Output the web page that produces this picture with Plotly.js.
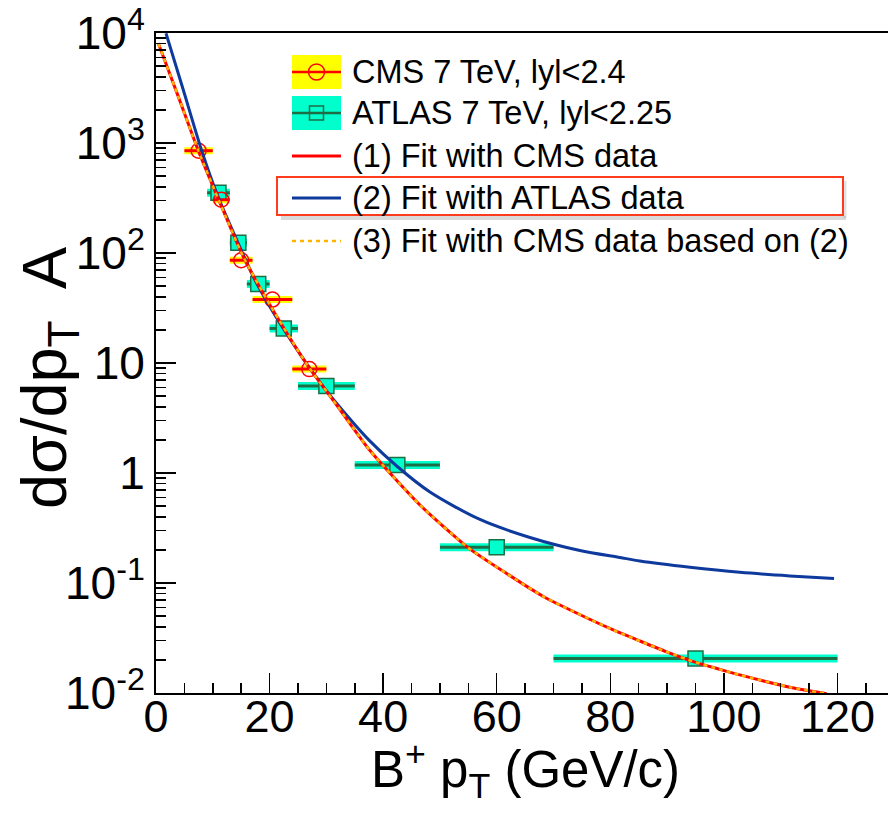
<!DOCTYPE html>
<html>
<head>
<meta charset="utf-8">
<script src="https://cdn.plot.ly/plotly-3.0.1.min.js"></script>
<style>html,body{margin:0;padding:0;background:#fff;}#chart{width:888px;height:819px;}</style>
</head>
<body>
<div id="chart"></div>
<script>
// ---- Data ----
const cmsPt  = [7.5, 11.5, 15, 20.5, 27];
const cmsLo  = [5, 10, 13, 17, 24];
const cmsHi  = [10, 13, 17, 24, 30];
const cmsVal = [851, 305, 86, 37.7, 8.8];

const atlasPt  = [11, 14.5, 18, 22.5, 30, 42.5, 60, 95];
const atlasLo  = [9, 13, 16, 20, 25, 35, 50, 70];
const atlasHi  = [13, 16, 20, 25, 35, 50, 70, 120];
const atlasVal = [353, 124, 52.3, 20.6, 6.18, 1.18, 0.211, 0.0206];

// (1) Fit with CMS data
const fit1X = [0.4, 3.93, 7.45, 11.27, 15.37, 20.07, 26.53, 31.81, 37.68, 46.48, 54.88, 61.74, 68.19, 71.13, 80.51, 85.21, 89.91, 94.89, 99.3, 102.8, 111.6, 118.1];
const fit1Y = [8060, 2640, 851, 285, 92.5, 33.7, 9.79, 4.15, 1.60, 0.512, 0.211, 0.122, 0.0754, 0.0631, 0.0374, 0.0297, 0.0237, 0.0191, 0.0164, 0.0146, 0.0113, 0.00986];
// (2) Fit with ATLAS data
const fit2X = [1.76, 4.81, 8.05, 10.69, 14.49, 17.73, 22.41, 29.45, 34.15, 37.68, 42.38, 48.24, 57.04, 65.85, 74.65, 81.69, 85.21, 94.01, 102.8, 111.6, 119.4];
const fit2Y = [9940, 3030, 851, 349, 122, 53, 20.6, 6.10, 3.10, 1.95, 1.158, 0.672, 0.378, 0.2594, 0.1975, 0.1706, 0.1585, 0.139, 0.125, 0.116, 0.110];
// (3) Fit with CMS data based on (2) (coincides with (1) in the picture)
const fit3X = [0.4, 3.93, 7.45, 11.27, 15.37, 20.07, 26.53, 31.81, 37.68, 46.48, 54.88, 61.74, 68.19, 71.13, 80.51, 85.21, 89.91, 94.89, 99.3, 102.8, 111.6, 118.1];
const fit3Y = [8060, 2640, 851, 285, 92.5, 33.7, 9.79, 4.15, 1.60, 0.512, 0.211, 0.122, 0.0754, 0.0631, 0.0374, 0.0297, 0.0237, 0.0191, 0.0164, 0.0146, 0.0113, 0.00986];

const yTickVals = [0.01, 0.1, 1, 10, 100, 1000, 10000];
const yTickText = ['10<sup>-2</sup>', '10<sup>-1</sup>', '1', '10', '10<sup>2</sup>', '10<sup>3</sup>', '10<sup>4</sup>'];

const legendLabels = ['CMS 7 TeV, lyl<2.4', 'ATLAS 7 TeV, lyl<2.25', '(1) Fit with CMS data', '(2) Fit with ATLAS data', '(3) Fit with CMS data based on (2)'];

// ---- Styles ----
const FONT = 'Liberation Sans, Arial, Helvetica, sans-serif';
const YELLOW = '#ffff00', CYAN = '#00ffcc', RED = '#ff0000', DKGREEN = '#1d6e45', BLUE = '#0d3a9c', ORANGE = '#ffb400';

const plusX  = (pt, hi) => pt.map((p, i) => hi[i] - p);
const minusX = (pt, lo) => pt.map((p, i) => p - lo[i]);

const traces = [
  { // CMS yellow band
    type: 'scatter', mode: 'markers', x: cmsPt, y: cmsVal, showlegend: false, hoverinfo: 'skip',
    marker: {size: 1, color: 'rgba(0,0,0,0)'},
    error_x: {type: 'data', symmetric: false, array: plusX(cmsPt, cmsHi), arrayminus: minusX(cmsPt, cmsLo), color: YELLOW, thickness: 7, width: 0}
  },
  { // ATLAS cyan band
    type: 'scatter', mode: 'markers', x: atlasPt, y: atlasVal, showlegend: false, hoverinfo: 'skip',
    marker: {size: 1, color: 'rgba(0,0,0,0)'},
    error_x: {type: 'data', symmetric: false, array: plusX(atlasPt, atlasHi), arrayminus: minusX(atlasPt, atlasLo), color: CYAN, thickness: 8, width: 0}
  },
  { // ATLAS points
    type: 'scatter', mode: 'markers', x: atlasPt, y: atlasVal, name: legendLabels[1], showlegend: false,
    marker: {symbol: 'square', size: 15, color: CYAN, line: {color: DKGREEN, width: 1.5}},
    error_x: {type: 'data', symmetric: false, array: plusX(atlasPt, atlasHi), arrayminus: minusX(atlasPt, atlasLo), color: DKGREEN, thickness: 3, width: 0}
  },
  { // CMS points
    type: 'scatter', mode: 'markers', x: cmsPt, y: cmsVal, name: legendLabels[0], showlegend: false,
    marker: {symbol: 'circle-open', size: 15, color: RED, line: {color: RED, width: 1.5}},
    error_x: {type: 'data', symmetric: false, array: plusX(cmsPt, cmsHi), arrayminus: minusX(cmsPt, cmsLo), color: RED, thickness: 3, width: 0}
  },
  { // (2) blue
    type: 'scatter', mode: 'lines', x: fit2X, y: fit2Y, name: legendLabels[3], showlegend: false,
    line: {color: BLUE, width: 3, shape: 'spline', smoothing: 0.8}
  },
  { // (1) red
    type: 'scatter', mode: 'lines', x: fit1X, y: fit1Y, name: legendLabels[2], showlegend: false,
    line: {color: RED, width: 3, shape: 'spline', smoothing: 0.6}
  },
  { // (3) orange dashed
    type: 'scatter', mode: 'lines', x: fit3X, y: fit3Y, name: legendLabels[4], showlegend: false,
    line: {color: ORANGE, width: 2.5, dash: '4px,4px', shape: 'spline', smoothing: 0.6}
  }
];

// minor tick values for the log axis
const minorY = [];
for (let d = -2; d <= 3; d++) for (let k = 2; k <= 9; k++) minorY.push(k * Math.pow(10, d));

// ---- Legend drawn in paper coordinates (pixel helpers) ----
const L = 156, T = 33, W = 732, H = 660;
const px = v => (v - L) / W;
const py = v => (T + H - v) / H;
const rowY = [72, 113, 156, 198, 241];
const symL = 292, symR = 341, symC = 316.5, textX = 350;

const shapes = [
  // shadow of highlight box
  {type: 'line', xref: 'paper', yref: 'paper', x0: px(281), x1: px(846), y0: py(218), y1: py(218), line: {color: 'rgba(170,170,170,0.45)', width: 4}},
  {type: 'line', xref: 'paper', yref: 'paper', x0: px(845), x1: px(845), y0: py(181), y1: py(218), line: {color: 'rgba(170,170,170,0.35)', width: 3}},
  // highlight box around (2)
  {type: 'rect', xref: 'paper', yref: 'paper', x0: px(277), x1: px(843), y0: py(177), y1: py(215), line: {color: '#ff3b1d', width: 2}},
  // CMS symbol
  {type: 'rect', xref: 'paper', yref: 'paper', x0: px(symL), x1: px(symR), y0: py(rowY[0] - 17), y1: py(rowY[0] + 17), fillcolor: YELLOW, line: {width: 0}},
  {type: 'line', xref: 'paper', yref: 'paper', x0: px(symL), x1: px(symR), y0: py(rowY[0]), y1: py(rowY[0]), line: {color: RED, width: 2.5}},
  {type: 'circle', xref: 'paper', yref: 'paper', x0: px(symC - 8), x1: px(symC + 8), y0: py(rowY[0] - 8), y1: py(rowY[0] + 8), line: {color: RED, width: 1.5}},
  // ATLAS symbol
  {type: 'rect', xref: 'paper', yref: 'paper', x0: px(symL), x1: px(symR), y0: py(rowY[1] - 17), y1: py(rowY[1] + 17), fillcolor: CYAN, line: {width: 0}},
  {type: 'line', xref: 'paper', yref: 'paper', x0: px(symL), x1: px(symR), y0: py(rowY[1]), y1: py(rowY[1]), line: {color: DKGREEN, width: 2.5}},
  {type: 'rect', xref: 'paper', yref: 'paper', x0: px(symC - 7), x1: px(symC + 7), y0: py(rowY[1] - 7), y1: py(rowY[1] + 7), line: {color: DKGREEN, width: 1.5}},
  // line symbols
  {type: 'line', xref: 'paper', yref: 'paper', x0: px(symL), x1: px(symR), y0: py(rowY[2]), y1: py(rowY[2]), line: {color: RED, width: 3}},
  {type: 'line', xref: 'paper', yref: 'paper', x0: px(symL), x1: px(symR), y0: py(rowY[3]), y1: py(rowY[3]), line: {color: BLUE, width: 3}},
  {type: 'line', xref: 'paper', yref: 'paper', x0: px(symL), x1: px(symR), y0: py(rowY[4]), y1: py(rowY[4]), line: {color: ORANGE, width: 2.5, dash: '4px,4px'}}
];

const annotations = legendLabels.map((t, i) => ({
  xref: 'paper', yref: 'paper', x: px(textX), y: py(rowY[i]), xanchor: 'left', yanchor: 'middle',
  text: t, showarrow: false, font: {family: FONT, size: 32.5, color: '#000'}
}));
annotations.push({
  xref: 'paper', yref: 'paper', x: px(525), y: py(732), xanchor: 'center', yanchor: 'top',
  text: 'B<sup>+</sup> p<sub>T</sub> (GeV/c)', showarrow: false, font: {family: FONT, size: 51, color: '#000'}
});
annotations.push({
  xref: 'paper', yref: 'paper', x: px(48), y: py(378), xanchor: 'center', yanchor: 'middle', textangle: -90,
  text: 'd\u03c3/dp<sub>T</sub>\u00a0 A', showarrow: false, font: {family: FONT, size: 63, color: '#000'}
});

const layout = {
  width: 888, height: 819,
  margin: {l: 156, r: 0, t: 33, b: 126, pad: 0},
  paper_bgcolor: '#ffffff', plot_bgcolor: '#ffffff',
  showlegend: false,
  font: {family: FONT, color: '#000'},
  xaxis: {
    range: [0, 128.9], showgrid: false, zeroline: false,
    showline: true, linecolor: '#000', linewidth: 2, mirror: true,
    ticks: 'inside', ticklen: 20, tickwidth: 1.5, tickcolor: '#000',
    tickmode: 'linear', tick0: 0, dtick: 20, ticklabelstandoff: -17,
    minor: {ticks: 'inside', ticklen: 10, tickwidth: 1.5, tickcolor: '#000', dtick: 5, showgrid: false},
    tickfont: {family: FONT, size: 45, color: '#000'}
  },
  yaxis: {
    type: 'log', range: [-2, 4], showgrid: false, zeroline: false,
    showline: true, linecolor: '#000', linewidth: 2, mirror: false,
    ticks: 'inside', ticklen: 20, tickwidth: 1.5, tickcolor: '#000',
    tickmode: 'array', tickvals: yTickVals, ticktext: yTickText,
    minor: {ticks: 'inside', ticklen: 10, tickwidth: 1.5, tickcolor: '#000', tickmode: 'array', tickvals: minorY, showgrid: false},
    tickfont: {family: FONT, size: 46, color: '#000'}
  },
  shapes: shapes,
  annotations: annotations
};

Plotly.newPlot('chart', traces, layout, {displayModeBar: false, staticPlot: true});
</script>
</body>
</html>
